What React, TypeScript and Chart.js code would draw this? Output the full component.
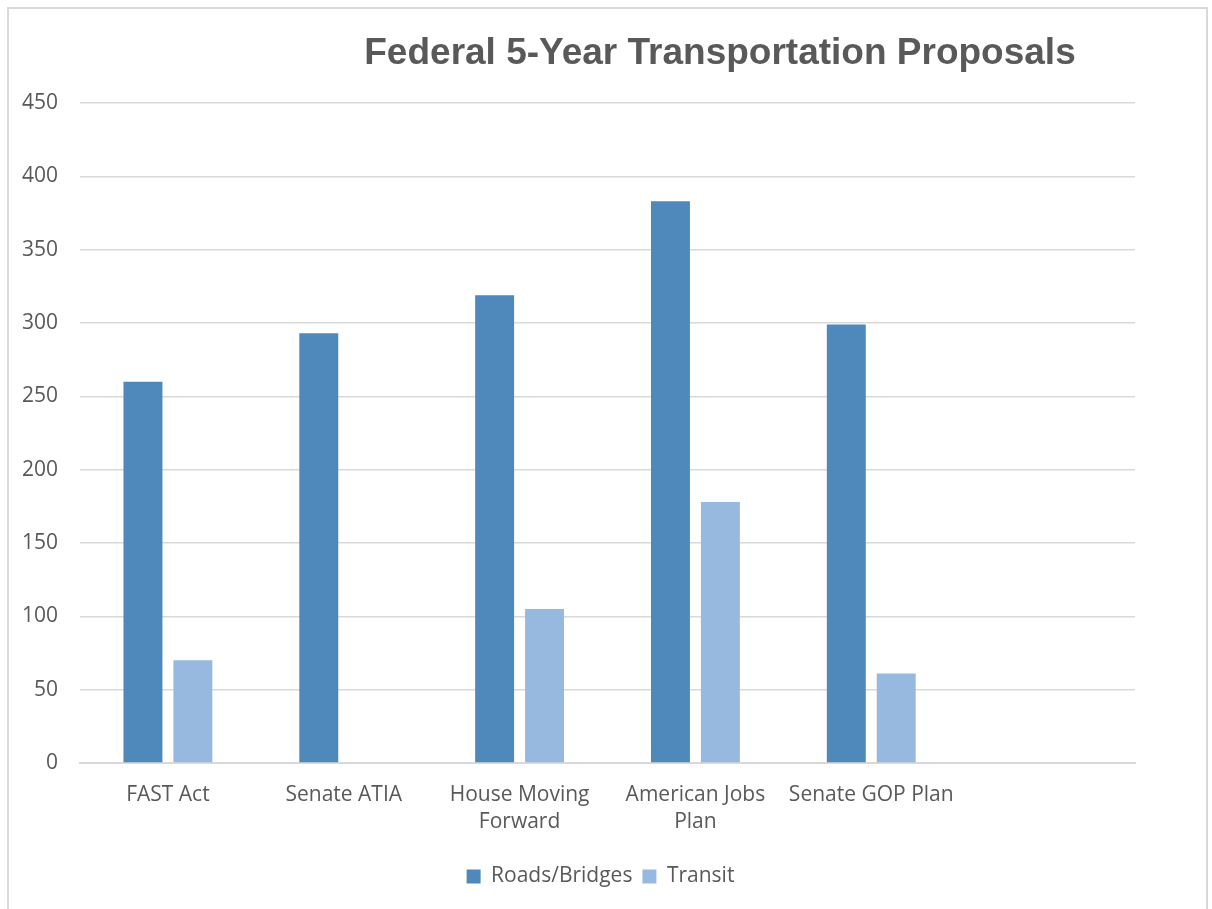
import React, { useEffect, useRef } from "react";
import { Chart, registerables } from "chart.js";

Chart.register(...registerables);

const TITLE = "Federal 5-Year Transportation Proposals";
const categories: (string | string[])[] = [
  "FAST Act",
  "Senate ATIA",
  ["House Moving", "Forward"],
  ["American Jobs", "Plan"],
  "Senate GOP Plan",
  "",
];
const roadsBridges: (number | null)[] = [260, 293, 319, 383, 299, null];
const transit: (number | null)[] = [70, null, 105, 178, 61, null];
const yTicks = { min: 0, max: 450, step: 50 };

const TEXT = "#595959";
const GRID = "#d9d9d9";

const titlePlugin = {
  id: "customTitle",
  afterLayout(chart: any) {
    const lg = chart.legend;
    if (lg) {
      lg.left += 33;
      lg.right += 33;
    }
  },
  afterDraw(chart: any) {
    const ctx = chart.ctx;
    ctx.save();
    ctx.font = "bold 37px 'Liberation Sans', Arial, sans-serif";
    ctx.fillStyle = TEXT;
    ctx.textAlign = "center";
    ctx.textBaseline = "alphabetic";
    ctx.fillText(TITLE, 720, 64);
    ctx.restore();
  },
};

export default function App() {
  const ref = useRef<HTMLCanvasElement>(null);
  useEffect(() => {
    if (!ref.current) return;
    const chart = new Chart(ref.current, {
      type: "bar",
      data: {
        labels: categories,
        datasets: [
          {
            label: "Roads/Bridges",
            data: roadsBridges,
            backgroundColor: "#4f88bb",
            categoryPercentage: 0.568,
            barPercentage: 0.78,
          },
          {
            label: "Transit",
            data: transit,
            backgroundColor: "#97b9e0",
            categoryPercentage: 0.568,
            barPercentage: 0.78,
          },
        ],
      },
      options: {
        animation: false,
        responsive: true,
        maintainAspectRatio: false,
        layout: { padding: { top: 103, right: 77, bottom: 12, left: 0 } },
        plugins: {
          title: { display: false },
          tooltip: { enabled: false },
          legend: {
            position: "bottom",
            labels: {
              boxWidth: 14,
              boxHeight: 14,
              padding: 10,
              color: TEXT,
              font: { family: "'Open Sans', sans-serif", size: 21 },
            },
          },
        },
        scales: {
          x: {
            grid: { display: false },
            border: { color: GRID, width: 2 },
            ticks: {
              color: TEXT,
              padding: 10,
              maxRotation: 0,
              autoSkip: false,
              font: { family: "'Open Sans', sans-serif", size: 21, lineHeight: 1.3 },
            },
            afterFit(scale: any) {
              scale.height = 93;
            },
          },
          y: {
            min: yTicks.min,
            max: yTicks.max,
            border: { display: false },
            grid: { color: GRID, lineWidth: 1.5, drawTicks: false },
            ticks: {
              stepSize: yTicks.step,
              padding: 22,
              color: TEXT,
              font: { family: "'Open Sans', sans-serif", size: 21 },
            },
            afterFit(scale: any) {
              scale.width = 80;
            },
          },
        },
      },
      plugins: [titlePlugin],
    });
    return () => chart.destroy();
  }, []);

  return (
    <div style={{ position: "absolute", left: 0, top: 0, width: 1212, height: 909, overflow: "hidden", background: "#fff" }}>
      <div
        style={{
          position: "absolute",
          left: 7,
          top: 7,
          width: 1201,
          height: 930,
          border: "2px solid #d9d9d9",
          boxSizing: "border-box",
        }}
      />
      <div style={{ position: "absolute", left: 0, top: 0, width: 1212, height: 909 }}>
        <canvas ref={ref} />
      </div>
    </div>
  );
}
